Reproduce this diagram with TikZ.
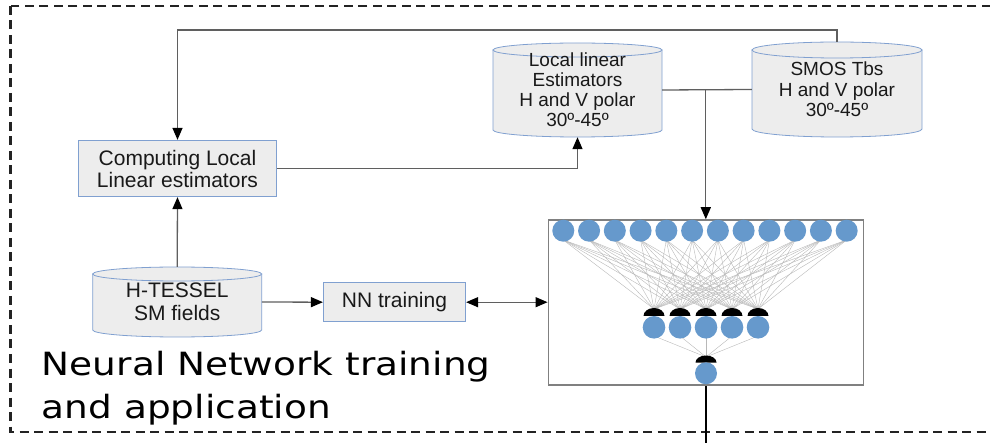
\documentclass[tikz,border=0pt]{standalone}
\usepackage{fontspec}
\setmainfont{Liberation Sans}
\newfontfamily\titlefont[FakeStretch=1.17]{DejaVu Sans}
\usetikzlibrary{arrows.meta,calc}

\definecolor{boxfill}{RGB}{237,237,237}
\definecolor{boxline}{RGB}{128,160,208}
\definecolor{wire}{RGB}{95,95,95}
\definecolor{unit}{RGB}{102,153,204}
\definecolor{framecol}{RGB}{35,35,35}

\tikzset{
  procbox/.style={draw=boxline, fill=boxfill, line width=0.8pt, inner sep=0pt,
    align=center, text=black!90, font=\fontsize{21}{22}\selectfont},
  cyltext/.style={inner sep=0pt, align=center, text=black!90},
  cylsty/.style={draw=boxline, fill=boxfill, line width=0.8pt},
  link/.style={draw=wire, line width=1.3pt},
  tip/.style={-{Triangle[length=12pt,width=10pt,color=black]}},
  tips/.style={{Triangle[length=12pt,width=10pt,color=black]}-{Triangle[length=12pt,width=10pt,color=black]}},
  mesh/.style={draw=black!28, line width=0.4pt},
  dome/.style={fill=black},
}

% vertical drum: left x, right x, top y, bottom y, half height of the end ellipses
\newcommand\drum[5]{%
  \filldraw[cylsty] (#1,#3+#5) -- (#1,#4-#5)
    arc[start angle=180, end angle=0, x radius={(#2-#1)/2}, y radius=#5]
    -- (#2,#3+#5) -- cycle;
  \filldraw[cylsty] ({(#1+#2)/2},#3+#5) ellipse[x radius={(#2-#1)/2}, y radius=#5];
}

\begin{document}
\begin{tikzpicture}[x=1pt, y=-1pt]
\useasboundingbox (0,0) rectangle (990,443);
\clip (0,0) rectangle (990,443);

% outer dashed frame
\draw[framecol, line width=2.5pt, dash pattern=on 9pt off 5.5pt] (10.7,6) rectangle (1010,432);

% data stores
\drum{493}{662}{43}{137}{7}
\node[cyltext, minimum width=169pt, minimum height=94pt, font=\fontsize{19}{20}\selectfont]
  (ll) at (577.5,90) {Local linear\\Estimators\\H and V polar\\30º-45º};

\drum{752}{922}{42}{137}{8}
\node[cyltext, minimum width=170pt, minimum height=95pt, font=\fontsize{19}{20.5}\selectfont]
  (smos) at (837,89.5) {SMOS Tbs\\H and V polar\\30º-45º};

\drum{92.7}{261.7}{267}{337}{7}
\node[cyltext, minimum width=169pt, minimum height=70pt, font=\fontsize{21}{22.5}\selectfont]
  (ht) at (177.2,302) {H-TESSEL\\SM fields};

% processing boxes
\node[procbox, minimum width=198.5pt, minimum height=56.5pt] (comp) at (177.5,168.5)
  {Computing Local\\Linear estimators};
\node[procbox, minimum width=142.4pt, minimum height=39pt] (nnt) at (394.5,302.2) {NN training};

% network panel
\node[draw=black!50, line width=1.5pt, minimum width=315pt, minimum height=165pt, inner sep=0pt]
  (nnbox) at (705.8,302.5) {};

% network links
\foreach \i in {0,...,11}
  \foreach \j in {0,...,4}
    \draw[mesh] ({563.3+25.76*\i},240) -- ({654+26*\j},309);
\foreach \j in {0,...,4}
  \draw[mesh] ({654+26*\j},336) -- (706,357);

% input layer
\foreach \i in {0,...,11}
  \fill[unit] ({563.3+25.76*\i},230.7) circle[radius=11];
% hidden layer with its bias caps
\foreach \j in {0,...,4}{
  \fill[dome] ({654+26*\j-10.5},316) arc[start angle=180, end angle=360, x radius=10.5, y radius=8] -- cycle;
  \fill[unit] ({654+26*\j},327.3) circle[radius=11.3];
}
% output unit
\fill[dome] (695.5,362.5) arc[start angle=180, end angle=360, x radius=10.5, y radius=7] -- cycle;
\fill[unit] (706,373.3) circle[radius=11];

% connectors
\draw[link, tip] (smos.north) -- (smos.north |- 0,30) -| (comp.north);
\draw[link, tip] (comp.east) -| (ll.south);
\draw[link] (ll.east) -- (smos.west);
\draw[link, tip] (ll.east -| nnbox.north) -- (nnbox.north);
\draw[link, tip] (ht.north) -- (comp.south);
\draw[link, tip] (ht.east) -- (nnt.west);
\draw[link, tips] (nnt.east) -- (nnt.east -| nnbox.west);
\coordinate (out) at (705.8,450);
\draw[black, line width=2pt] (nnbox.south) -- (out);

% caption
\node[anchor=base west, inner sep=0pt, font=\titlefont\fontsize{32}{42}\selectfont]
  (cap1) at (41.7,375.7) {Neural Network training};
\node[anchor=base west, inner sep=0pt, font=\titlefont\fontsize{32}{42}\selectfont]
  (cap2) at (41.7,418) {and application};
\end{tikzpicture}
\end{document}
